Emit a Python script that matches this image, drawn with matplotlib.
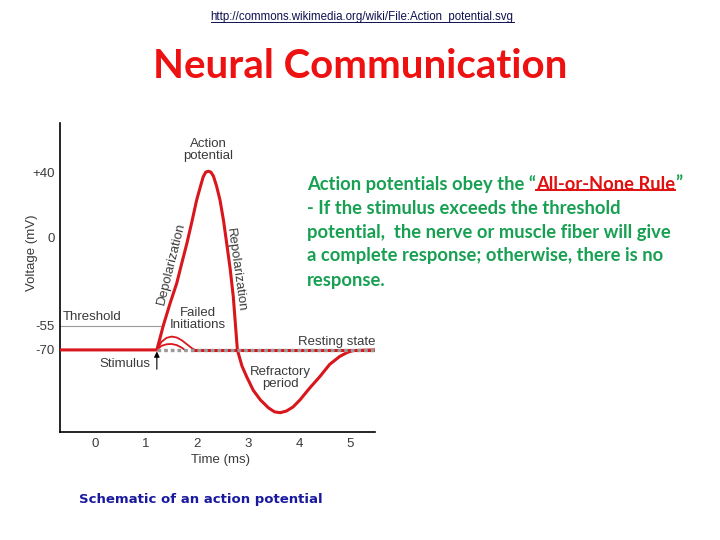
import numpy as np
import matplotlib
matplotlib.use("Agg")
import matplotlib.pyplot as plt

time_ms = [-0.69, 1.21, 1.34, 1.47, 1.60, 1.70, 1.80, 1.90, 1.99, 2.06, 2.12, 2.17, 2.22,
           2.27, 2.32, 2.38, 2.45, 2.52, 2.58, 2.65, 2.71, 2.79, 2.88, 2.97, 3.10,
           3.24, 3.40, 3.52, 3.63, 3.75, 3.88, 4.02, 4.20, 4.41, 4.60, 4.80, 4.95,
           5.06, 5.49]
voltage_mv = [-70, -70, -54.5, -41, -28.6, -16, -3.7, 10, 23, 31, 37.6, 40.5, 41,
              40.5, 38, 32, 23, 10, -3.7, -20, -37, -70, -80, -86.5, -95,
              -101, -106, -108.5, -109, -108, -105.5, -101, -94, -86.5, -79, -74, -71.5,
              -70.4, -70]

fail_hi_t = [1.21, 1.30, 1.40, 1.50, 1.60, 1.70, 1.80, 1.90, 1.96]
fail_hi_v = [-70, -65, -62.5, -61.7, -62.3, -64, -66.5, -69, -70]
fail_lo_t = [1.21, 1.30, 1.40, 1.50, 1.60, 1.70, 1.76]
fail_lo_v = [-70, -67.5, -66.5, -66.3, -67, -68.6, -70]

rest_t = [1.96, 5.49]
rest_v = [-70, -70]
dotted_t = [1.21, 5.49]
threshold_t = [-0.69, 1.34]
threshold_v = [-55, -55]

x_ticks = [0, 1, 2, 3, 4, 5]
y_ticks = [40, 0, -55, -70]
y_tick_labels = ["+40", "0", "-55", "-70"]

url = "http://commons.wikimedia.org/wiki/File:Action_potential.svg"
title = "Neural Communication"
body_lines = ["- If the stimulus exceeds the threshold",
              "potential,  the nerve or muscle fiber will give",
              "a complete response; otherwise, there is no",
              "response."]
caption = "Schematic of an action potential"

red = "#d8161c"
grey_txt = "#3a3a3a"
green = "#17a052"

fig = plt.figure(figsize=(7.2, 5.4), dpi=100)
ax = fig.add_axes([60/720, 1 - 432/540, 315/720, 309/540])

ax.plot(time_ms, voltage_mv, color=red, lw=2.2, solid_capstyle="butt", zorder=3)
ax.plot(fail_hi_t, fail_hi_v, color=red, lw=1.3, zorder=3)
ax.plot(fail_lo_t, fail_lo_v, color=red, lw=1.3, zorder=3)
ax.plot(rest_t, rest_v, color=red, lw=2.2, zorder=3)
ax.plot(dotted_t, rest_v, color="#9a9a9a", lw=2.4, dashes=(1.1, 0.9), zorder=4)
ax.plot(threshold_t, threshold_v, color="#9a9a9a", lw=0.8, zorder=2)

ax.annotate("", xy=(1.21, -71), xytext=(1.21, -82),
            arrowprops=dict(arrowstyle="-|>", color="black", lw=0.8,
                            mutation_scale=8, shrinkA=0, shrinkB=0))

ax.set_xlim(-0.69, 5.49)
ax.set_ylim(-121, 71)
ax.set_xticks(x_ticks)
ax.set_yticks(y_ticks)
ax.set_yticklabels(y_tick_labels)
ax.tick_params(length=0, labelsize=9.5, labelcolor=grey_txt, pad=4)
for lbl in ax.get_xticklabels() + ax.get_yticklabels():
    lbl.set_fontfamily("Liberation Sans")
for s in ["top", "right"]:
    ax.spines[s].set_visible(False)
for s in ["left", "bottom"]:
    ax.spines[s].set_linewidth(1.2)

lab = dict(fontsize=9.5, color=grey_txt, family="Liberation Sans")
ax.set_ylabel("Voltage (mV)", **lab)
ax.yaxis.set_label_coords(-0.07, 0.579)
ax.set_xlabel("Time (ms)", **lab)
ax.xaxis.set_label_coords(0.508, -0.071)

ax.text(2.22, 54, "Action\npotential", ha="center", va="center", linespacing=1.0, **lab)
ax.text(-0.63, -49.5, "Threshold", ha="left", va="center", **lab)
ax.text(2.02, -51, "Failed\nInitiations", ha="center", va="center", linespacing=1.0, **lab)
ax.text(5.49, -65, "Resting state", ha="right", va="center", **lab)
ax.text(1.08, -78.7, "Stimulus", ha="right", va="center", **lab)
ax.text(3.63, -87.4, "Refractory\nperiod", ha="center", va="center", linespacing=1.0, **lab)
ax.text(1.50, -16.6, "Depolarization", ha="center", va="center", rotation=76,
        rotation_mode="anchor", **lab)
ax.text(2.76, -20.3, "Repolarization", ha="center", va="center", rotation=-82,
        rotation_mode="anchor", **lab)

# Page text
fig.text(0.5, 1 - 67/540, title, ha="center", va="center", fontsize=29,
         fontweight="bold", family="Lato", color="#ee1111")
t_url = fig.text(362/720, 1 - 17/540, url, ha="center", va="center", fontsize=8.3,
                 family="Liberation Sans", color="#101050")
t_cap = fig.text(79/720, 1 - 500/540, caption, ha="left", va="center", fontsize=9.5,
                 fontweight="bold", family="DejaVu Sans", color="#1a1aa0")

body = dict(fontsize=13.2, fontweight="bold", family="Lato", va="center", ha="left")
x0 = 307/720
y_first = 1 - 184/540
step = 24/540
t1 = fig.text(x0, y_first, "Action potentials obey the \u201c", color=green, **body)
for i, line in enumerate(body_lines):
    fig.text(x0, y_first - (i + 1) * step, line, color=green, **body)

fig.canvas.draw()
r = fig.canvas.get_renderer()
inv = fig.transFigure.inverted()


def underline(t, color, lw, off):
    bb = t.get_window_extent(r)
    (xa, ya), (xb, yb) = inv.transform([(bb.x0, bb.y0), (bb.x1, bb.y0)])
    fig.add_artist(plt.Line2D([xa, xb], [ya + off, ya + off], color=color, lw=lw,
                              transform=fig.transFigure))


bb1 = t1.get_window_extent(r)
x_rule = inv.transform((bb1.x1, 0))[0]
t_rule = fig.text(x_rule, y_first, "All-or-None Rule", color="#e01010", **body)
fig.canvas.draw()
bb2 = t_rule.get_window_extent(r)
fig.text(inv.transform((bb2.x1, 0))[0], y_first, "\u201d", color=green, **body)
underline(t_rule, "#e01010", 1.4, 0.005)
underline(t_url, "#101050", 0.7, 0.002)

fig.savefig("out.png", dpi=100)
